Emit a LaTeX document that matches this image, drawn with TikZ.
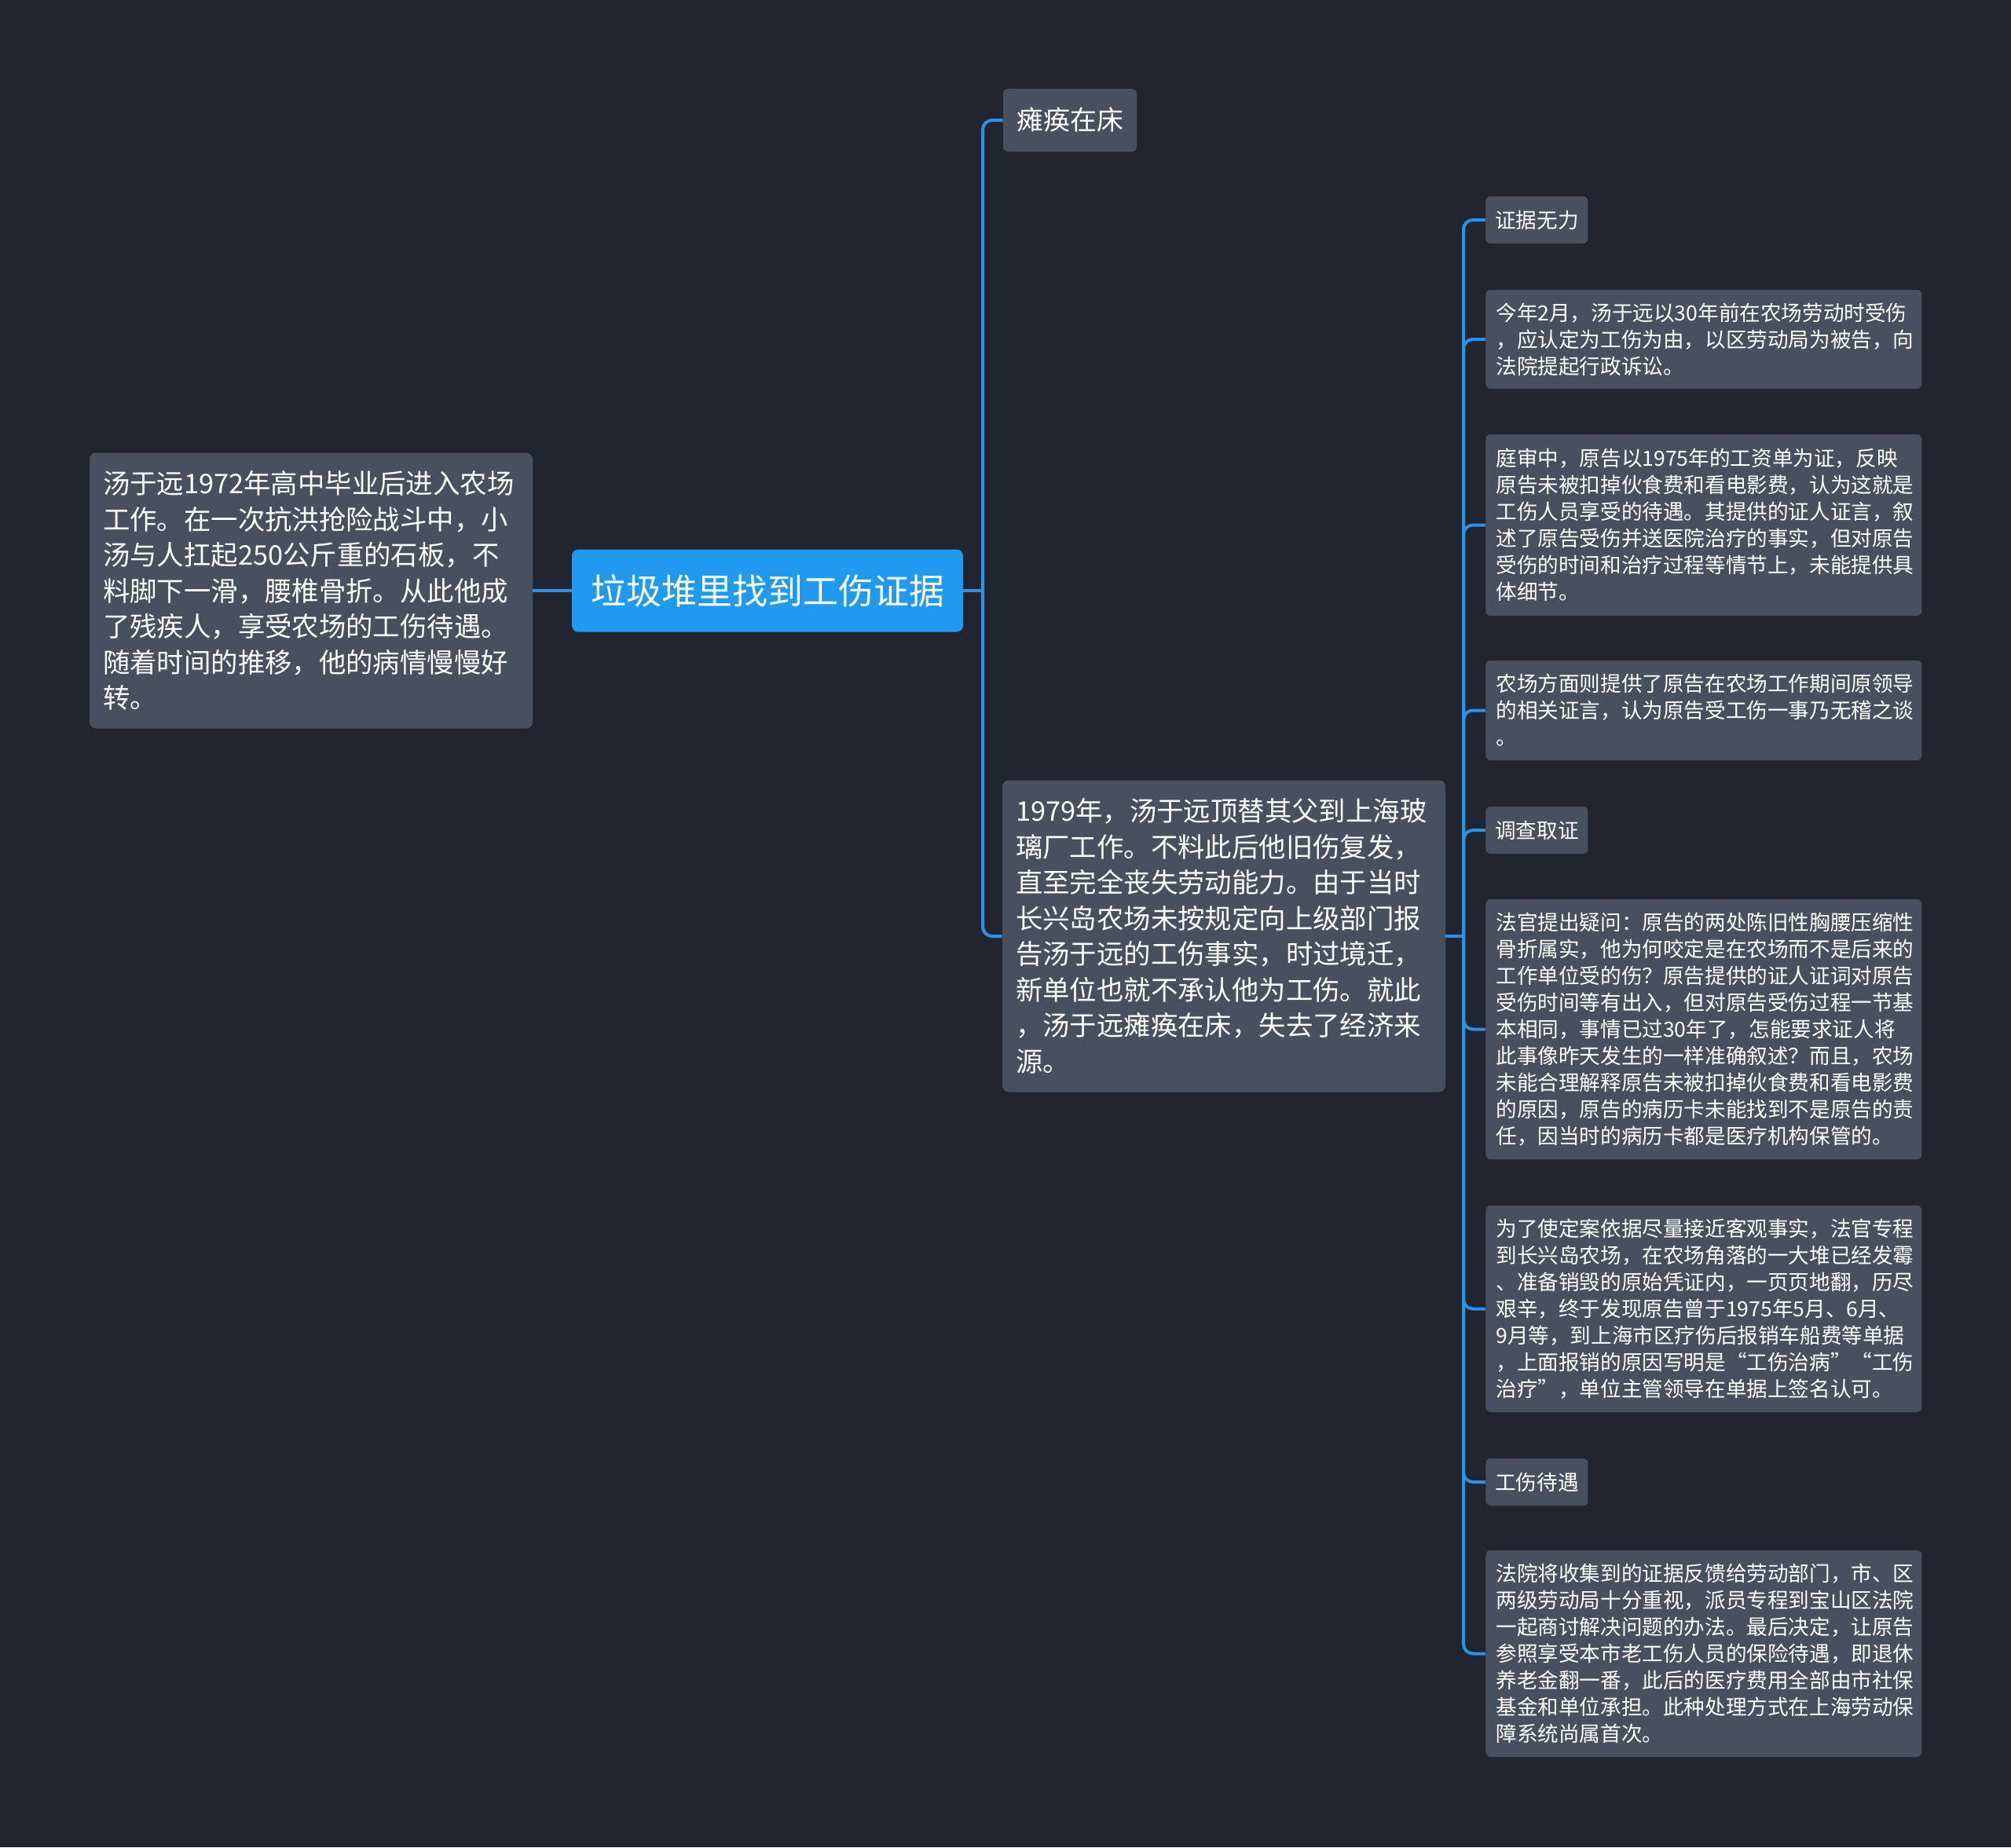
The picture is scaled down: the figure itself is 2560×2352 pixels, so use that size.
\documentclass[tikz,border=0pt]{standalone}
\usepackage{fontspec}
\setmainfont{Noto Sans CJK SC}
\definecolor{bgdark}{HTML}{21252F}
\definecolor{boxgray}{HTML}{484F5E}
\definecolor{rootblue}{HTML}{1F9AEE}
\definecolor{linkblue}{HTML}{2B92EA}
\newcommand{\cnlq}{\makebox[1em][r]{“}}
\newcommand{\cnrq}{\makebox[1em][l]{”}}
\begin{document}
\begin{tikzpicture}[x=0.5pt, y=-0.5pt,
  every node/.style={text=white, inner sep=0pt},
  topic/.style={fill=rootblue, rounded corners=4pt, minimum width=249pt, minimum height=52.5pt, font=\fontsize{22.5pt}{27pt}\selectfont},
  bigbox/.style={fill=boxgray, rounded corners=4pt, text width=265pt, align=left, inner xsep=8.5pt, font=\fontsize{17.2pt}{22.75pt}\selectfont},
  smallbox/.style={fill=boxgray, rounded corners=3pt, text width=264.5pt, align=left, inner xsep=6.5pt, anchor=west, font=\fontsize{13.3pt}{17pt}\selectfont},
  tagbox/.style={fill=boxgray, rounded corners=3pt, minimum width=65pt, minimum height=30pt, anchor=west, font=\fontsize{13.3pt}{16pt}\selectfont},
  link/.style={draw=linkblue, line width=2pt, rounded corners=6pt}]
  \fill[bgdark] (0,0) rectangle (2560,2352);
  \node[topic] (root) at (977,752) {垃圾堆里找到工伤证据};
  \node[bigbox, minimum height=175.5pt] (desc) at (396,752) {汤于远1972年高中毕业后进入农场\\工作。在一次抗洪抢险战斗中，小\\汤与人扛起250公斤重的石板，不\\料脚下一滑，腰椎骨折。从此他成\\了残疾人，享受农场的工伤待遇。\\随着时间的推移，他的病情慢慢好\\转。};
  \node[fill=boxgray, rounded corners=3pt, minimum width=85pt, minimum height=40pt, font=\fontsize{17pt}{20pt}\selectfont] (paralyzed) at (1362,153) {瘫痪在床};
  \node[bigbox, minimum height=198.5pt] (story) at (1558,1192) {1979年，汤于远顶替其父到上海玻\\璃厂工作。不料此后他旧伤复发，\\直至完全丧失劳动能力。由于当时\\长兴岛农场未按规定向上级部门报\\告汤于远的工伤事实，时过境迁，\\新单位也就不承认他为工伤。就此\\，汤于远瘫痪在床，失去了经济来\\源。};
  \node[tagbox] (weak) at (1891,280) {证据无力};
  \node[smallbox, minimum height=63pt] (suit) at (1891,432) {今年2月，汤于远以30年前在农场劳动时受伤\\，应认定为工伤为由，以区劳动局为被告，向\\法院提起行政诉讼。};
  \node[smallbox, minimum height=115.5pt] (trial) at (1891,668.5) {庭审中，原告以1975年的工资单为证，反映\\原告未被扣掉伙食费和看电影费，认为这就是\\工伤人员享受的待遇。其提供的证人证言，叙\\述了原告受伤并送医院治疗的事实，但对原告\\受伤的时间和治疗过程等情节上，未能提供具\\体细节。};
  \node[smallbox, minimum height=63.5pt] (farm) at (1891,904.5) {农场方面则提供了原告在农场工作期间原领导\\的相关证言，认为原告受工伤一事乃无稽之谈\\。};
  \node[tagbox] (probe) at (1891,1057) {调查取证};
  \node[smallbox, minimum height=165.5pt] (judge) at (1891,1310.5) {法官提出疑问：原告的两处陈旧性胸腰压缩性\\骨折属实，他为何咬定是在农场而不是后来的\\工作单位受的伤？原告提供的证人证词对原告\\受伤时间等有出入，但对原告受伤过程一节基\\本相同，事情已过30年了，怎能要求证人将\\此事像昨天发生的一样准确叙述？而且，农场\\未能合理解释原告未被扣掉伙食费和看电影费\\的原因，原告的病历卡未能找到不是原告的责\\任，因当时的病历卡都是医疗机构保管的。};
  \node[smallbox, minimum height=131.5pt] (search) at (1891,1666.5) {为了使定案依据尽量接近客观事实，法官专程\\到长兴岛农场，在农场角落的一大堆已经发霉\\、准备销毁的原始凭证内，一页页地翻，历尽\\艰辛，终于发现原告曾于1975年5月、6月、\\9月等，到上海市区疗伤后报销车船费等单据\\，上面报销的原因写明是\cnlq 工伤治病\cnrq\cnlq 工伤\\治疗\cnrq，单位主管领导在单据上签名认可。};
  \node[tagbox] (benefit) at (1891,1887) {工伤待遇};
  \node[smallbox, minimum height=131.5pt] (court) at (1891,2105.5) {法院将收集到的证据反馈给劳动部门，市、区\\两级劳动局十分重视，派员专程到宝山区法院\\一起商讨解决问题的办法。最后决定，让原告\\参照享受本市老工伤人员的保险待遇，即退休\\养老金翻一番，此后的医疗费用全部由市社保\\基金和单位承担。此种处理方式在上海劳动保\\障系统尚属首次。};
  \coordinate (rootfork) at (1251,752);
  \coordinate (storyfork) at (1863,1192);
  \draw[link] (root.west) -- (desc.east);
  \draw[link] (root.east) -- (rootfork);
  \draw[link] (rootfork) |- (paralyzed.west);
  \draw[link] (rootfork) |- (story.west);
  \draw[link] (story.east) -- (storyfork);
  \draw[link] (storyfork) |- (weak.west);
  \draw[link] (storyfork) |- (suit.west);
  \draw[link] (storyfork) |- (trial.west);
  \draw[link] (storyfork) |- (farm.west);
  \draw[link] (storyfork) |- (probe.west);
  \draw[link] (storyfork) |- (judge.west);
  \draw[link] (storyfork) |- (search.west);
  \draw[link] (storyfork) |- (benefit.west);
  \draw[link] (storyfork) |- (court.west);
\end{tikzpicture}
\end{document}
